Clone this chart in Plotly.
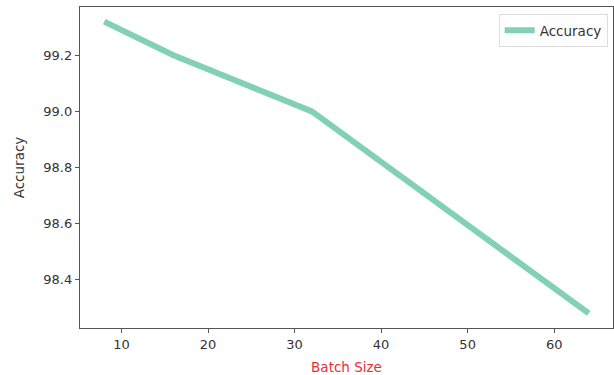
import plotly.graph_objects as go

batch_size = [8, 16, 32, 64]
accuracy = [99.32, 99.20, 99.00, 98.28]
x_ticks = [10, 20, 30, 40, 50, 60]
y_ticks = [98.4, 98.6, 98.8, 99.0, 99.2]

fig = go.Figure()
fig.add_trace(go.Scatter(
    x=batch_size, y=accuracy, mode="lines", name="Accuracy",
    line=dict(color="rgb(130,208,182)", width=6),
))

axis_common = dict(
    showline=True, linecolor="#555555", linewidth=1.3, mirror=True,
    ticks="outside", ticklen=4, tickcolor="#555555", tickwidth=1.2,
    showgrid=False, zeroline=False,
    tickfont=dict(family="DejaVu Sans", size=13, color="#333333"),
)

fig.update_layout(
    width=614, height=375,
    margin=dict(l=80, r=1, t=7, b=47),
    paper_bgcolor="white", plot_bgcolor="white",
    font=dict(family="DejaVu Sans", size=13, color="#333333"),
    xaxis=dict(range=[5.2, 66.8], tickvals=x_ticks,
               title=dict(text="Batch Size", standoff=11,
                          font=dict(family="DejaVu Sans", size=13.5, color="#ee2c3a")),
               **axis_common),
    yaxis=dict(range=[98.228, 99.372], tickvals=y_ticks, tickformat=".1f",
               title=dict(text="Accuracy", standoff=15,
                          font=dict(family="DejaVu Sans", size=13.5, color="#333333")),
               **axis_common),
    legend=dict(x=0.99, y=0.978, xanchor="right", yanchor="top",
                bordercolor="#dddddd", borderwidth=1, bgcolor="white",
                entrywidth=80,
                font=dict(family="DejaVu Sans", size=13.5, color="#333333")),
    showlegend=True,
)

fig.write_html("out.html")
